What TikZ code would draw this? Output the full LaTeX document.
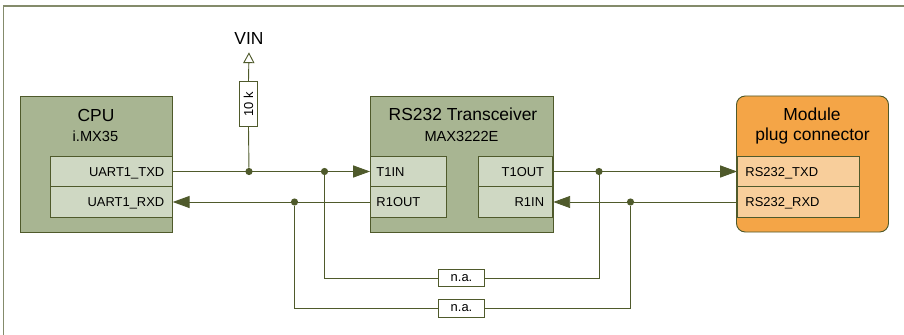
\documentclass[tikz,border=0pt]{standalone}
\usepackage{fontspec}
\setmainfont{Liberation Sans}
\usetikzlibrary{arrows.meta, calc}

\definecolor{wireol}{HTML}{4F5A2B}
\definecolor{blockol}{HTML}{A8B592}
\definecolor{portol}{HTML}{CFD8C3}
\definecolor{blockor}{HTML}{F4A547}
\definecolor{portor}{HTML}{F8CE9B}

\newcommand{\bigfont}{\fontsize{12.4}{14}\selectfont}
\newcommand{\midfont}{\fontsize{10.4}{12}\selectfont}
\newcommand{\smallfont}{\fontsize{9.2}{11}\selectfont}

\tikzset{
  wire/.style={draw=wireol, line width=0.65pt},
  sigarrow/.style={wire, -{Triangle[length=0.42cm, width=0.3cm]}},
  pullarrow/.style={wire, -{Triangle[open, fill=white, length=0.27cm, width=0.28cm]}},
  blockbox/.style={draw=wireol, line width=0.65pt, minimum width=3.8cm, minimum height=3.4cm, inner sep=0pt},
  portbox/.style={draw=wireol, line width=0.65pt, minimum height=0.7625cm, inner ysep=0pt,
    text height=6.5pt, text depth=0pt, font=\smallfont},
  portleft/.style={portbox, align=left, inner xsep=#1},
  portright/.style={portbox, align=right, inner xsep=#1},
  junction/.style={circle, fill=wireol, minimum size=0.18cm, inner sep=0pt},
  valuebox/.style={draw=wireol, line width=0.65pt, fill=white, minimum width=1.13cm, minimum height=0.43cm,
    inner sep=0pt, font=\smallfont},
}

\begin{document}
\begin{tikzpicture}[x=0.025cm, y=-0.025cm]

 %%Paramaters
%% row position, can be modified
\def\txPos{171.5}
\def\rxPos{202}
\def\blockPos{164}

\useasboundingbox (0,0) rectangle (904,335);

%% frame, two sides only
\coordinate (framebl) at (3.5,335);
\coordinate (frametr) at (904,6);
\draw[draw=wireol!70, line width=0.9pt] (framebl) |- (frametr);

%% CPU
\node[blockbox, fill=blockol] (cpu) at (96.5, \blockPos) {};
\node[font=\bigfont] (cpuname) at (96, 115) {CPU};
\node[font=\midfont] (cputype) at (95.5, 136.5) {i.MX35};
\node[portright=0.2cm, fill=portol, text width=2.65cm] (uarttx) at (111.25, \txPos) {UART1\_TXD};
\node[portright=0.2cm, fill=portol, text width=2.65cm] (uartrx) at (111.25, \rxPos) {UART1\_RXD};

%% Transceiver
\node[blockbox, fill=blockol, minimum width=4.575cm] (max) at (461.5, \blockPos) {};
\node[font=\bigfont] (maxname) at (463, 114.5) {RS232 Transceiver};
\node[font=\midfont] (maxtype) at (461.5, 136.5) {MAX3222E};
\node[portleft=0.15cm, fill=portol, text width=1.6cm] (tin) at (408.5, \txPos) {T1IN};
\node[portleft=0.15cm, fill=portol, text width=1.6cm] (rout) at (408.5, \rxPos) {R1OUT};
\node[portright=0.22cm, fill=portol, text width=1.43cm] (tout) at (515.5, \txPos) {T1OUT};
\node[portright=0.22cm, fill=portol, text width=1.43cm] (rin) at (515.5, \rxPos) {R1IN};

%% Module plug
\node[blockbox, fill=blockor, rounded corners=0.22cm] (plug) at (812.5, \blockPos) {};
\node[font=\bigfont] (plugname) at (812, 114.5) {Module};
\node[font=\bigfont] (plugtype) at (812.5, 135.5) {plug connector};
\node[portleft=0.2cm, fill=portor, text width=2.65cm] (plugtx) at (798.5, \txPos) {RS232\_TXD};
\node[portleft=0.2cm, fill=portor, text width=2.65cm] (plugrx) at (798.5, \rxPos) {RS232\_RXD};

%% Pull up
\node[font=\bigfont, inner sep=5pt] (vin) at (249, 39) {VIN};
\node[valuebox, rotate=90] (pullres) at (248.5, 104) {10 k};
\node[junction] (pulljn) at (249, \txPos) {};
\draw[pullarrow] (pullres.east) -- (vin.south);
\draw[wire] (pullres.west) -- (pulljn);

%% Signal wires
\draw[sigarrow] (uarttx.east) -- (tin.west);
\draw[sigarrow] (rout.west) -- (uartrx.east);
\draw[sigarrow] (tout.east) -- (plugtx.west);
\draw[sigarrow] (plugrx.west) -- (rin.east);

%% Bridges
\node[junction] (txjnl) at (324.5, \txPos) {};
\node[junction] (txjnr) at (599, \txPos) {};
\node[junction] (rxjnl) at (294.5, \rxPos) {};
\node[junction] (rxjnr) at (630.5, \rxPos) {};
\node[valuebox] (bridgetx) at (461.5, 278) {n.a.};
\node[valuebox] (bridgerx) at (461.5, 308.5) {n.a.};

\draw[wire] (txjnl) |- (bridgetx.west);
\draw[wire] (bridgetx.east) -| (txjnr);
\draw[wire] (rxjnl) |- (bridgerx.west);
\draw[wire] (bridgerx.east) -| (rxjnr);

\end{tikzpicture}
\end{document}
